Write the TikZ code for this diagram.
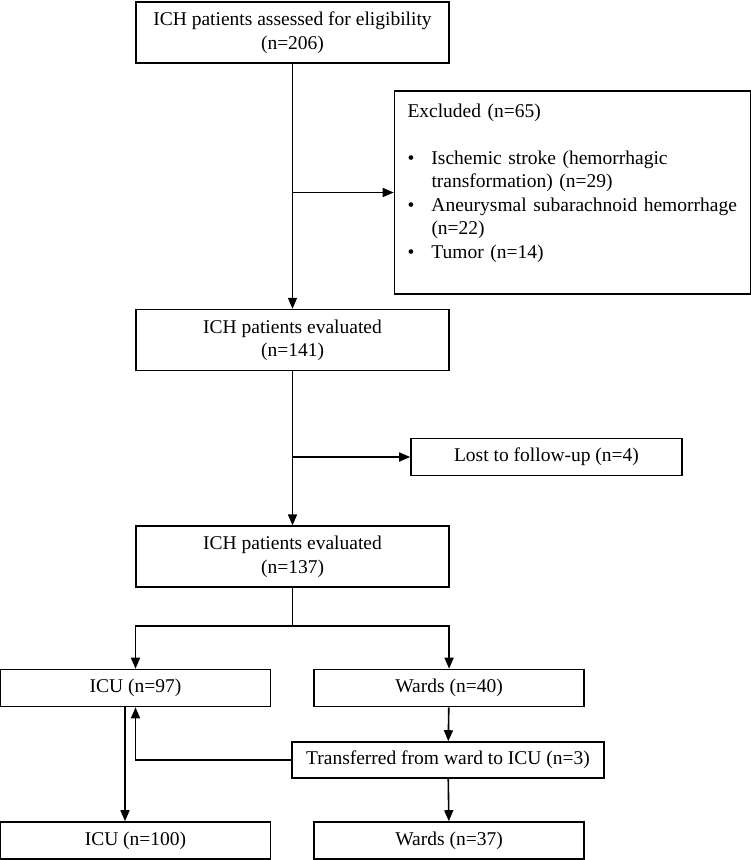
\documentclass[tikz,border=0pt]{standalone}
\usepackage{fontspec}
\setmainfont{Liberation Serif}
\usetikzlibrary{positioning,arrows.meta}

\newcommand{\flowfont}{\fontsize{19.5}{23.5}\selectfont}
\newcommand{\exbullet}{\makebox[24pt][l]{\textbullet}}

\tikzset{
    box/.style={draw, line width=1.6pt, minimum width=313pt, minimum height=61pt,
        inner sep=2pt, align=center, font=\flowfont},
    smallbox/.style={box, minimum width=270pt, minimum height=37pt},
    exbox/.style={draw, line width=1.6pt, text width=330pt, inner xsep=13pt,
        minimum height=203pt, align=left, font=\flowfont},
    link/.style={line width=1.6pt},
    arr/.style={link, -{Triangle[length=11pt,width=9pt]}}
}

\begin{document}
\begin{tikzpicture}[x=1pt,y=1pt]
            \useasboundingbox (0,0) rectangle (751,-860);
            \node[box] (assess) at (292.5,-32.5) {ICH patients assessed for eligibility\\(n=206)};
            \node[box, below=245pt of assess] (eval1) {ICH patients evaluated\\(n=141)};
            \node[box, below=154pt of eval1] (eval2) {ICH patients evaluated\\(n=137)};
            \node[exbox] (excl) at (572.5,-192.5) {Excluded (n=65)\\[23.5pt]
                \exbullet Ischemic stroke (hemorrhagic\\
                \hspace*{24pt}transformation) (n=29)\\
                \exbullet Aneurysmal subarachnoid hemorrhage\\
                \hspace*{24pt}(n=22)\\
                \exbullet Tumor (n=14)\\
                \mbox{}};
            \node[smallbox, minimum width=271pt] (lost) at (546.5,-457) {Lost to follow-up (n=4)};
            \coordinate[below=38pt of eval2] (split);
            \node[smallbox] (icu1) at (135.5,-688) {ICU (n=97)};
            \node[smallbox, right=42pt of icu1] (ward1) {Wards (n=40)};
            \node[smallbox, minimum width=312pt, minimum height=36pt] (trans) at (448,-760) {Transferred from ward to ICU (n=3)};
            \node[smallbox] (icu2) at (135.5,-840.5) {ICU (n=100)};
            \node[smallbox, right=42pt of icu2] (ward2) {Wards (n=37)};

            \draw[arr] (assess) -- (eval1);
            \draw[arr] (assess.south |- excl.west) -- (excl.west);
            \draw[arr] (eval1) -- (eval2);
            \draw[arr] (eval1.south |- lost.west) -- (lost.west);
            \draw[link] (eval2) -- (split);
            \draw[arr] (split) -| (icu1);
            \draw[arr] (split) -| (ward1);
            \draw[arr] (ward1) -- (trans);
            \draw[arr] (trans) -- (ward2);
            \draw[arr] (trans) -| (icu1);
            \draw[arr] ([xshift=-10.5pt]icu1.south) -- ([xshift=-10.5pt]icu2.north);
        \end{tikzpicture}
\end{document}
